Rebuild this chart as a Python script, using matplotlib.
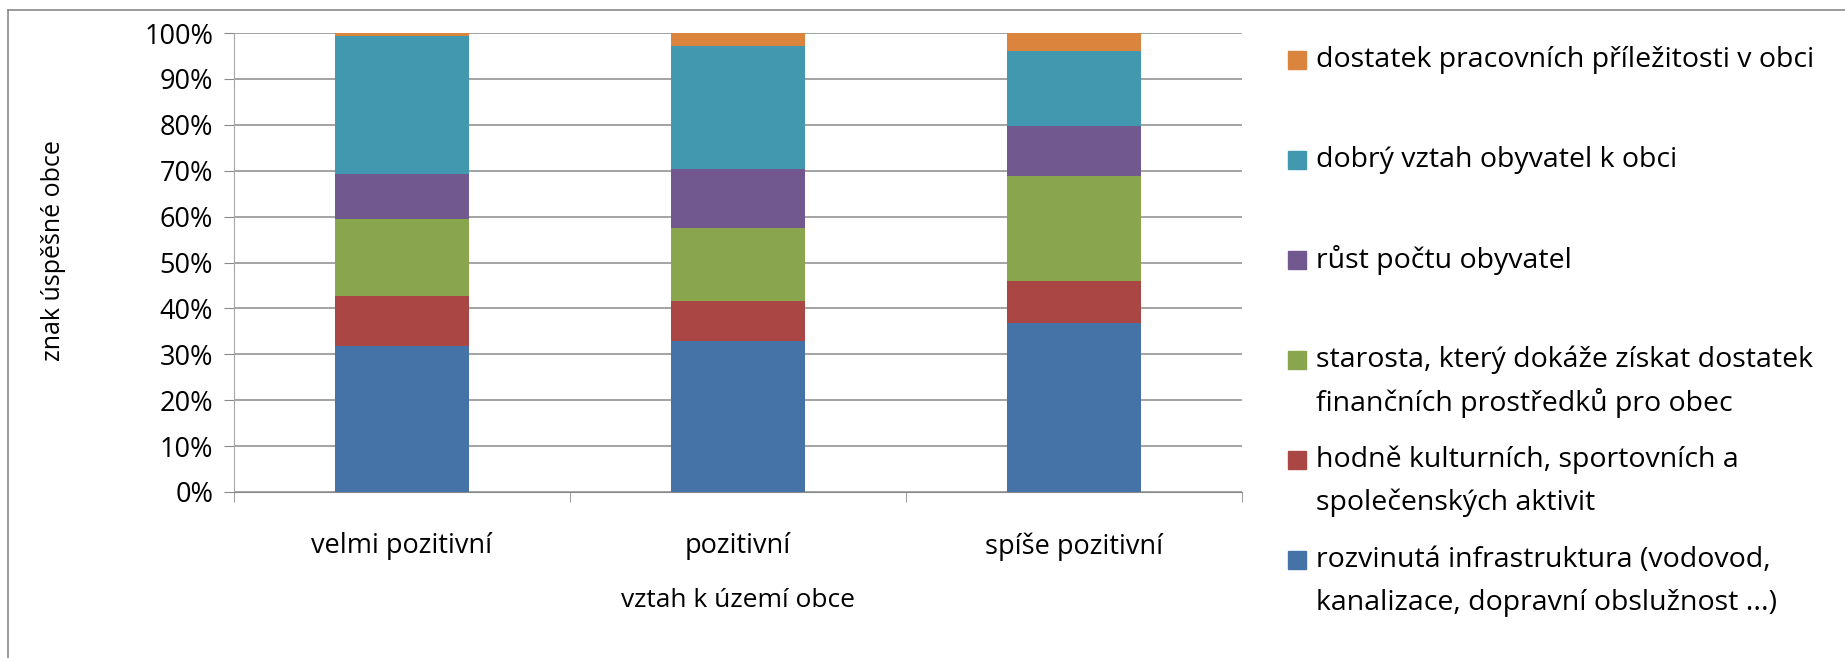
import numpy as np
import matplotlib
matplotlib.use("Agg")
import matplotlib.pyplot as plt
from matplotlib.ticker import PercentFormatter
from matplotlib.lines import Line2D
from matplotlib.patches import Rectangle

plt.rcParams['font.family'] = ['Open Sans', 'DejaVu Sans']

categories = ["velmi pozitivní", "pozitivní", "spíše pozitivní"]

# procenta, odspodu nahoru
infrastruktura = [31.9, 32.9, 36.8]
aktivity = [10.9, 8.7, 9.2]
starosta = [16.7, 15.9, 22.8]
rust = [9.8, 12.9, 11.0]
vztah = [30.1, 26.8, 16.3]
prace = [0.6, 2.8, 3.9]

series = [infrastruktura, aktivity, starosta, rust, vztah, prace]
labels = [
    "rozvinutá infrastruktura (vodovod,\nkanalizace, dopravní obslužnost ...)",
    "hodně kulturních, sportovních a\nspolečenských aktivit",
    "starosta, který dokáže získat dostatek\nfinančních prostředků pro obec",
    "růst počtu obyvatel",
    "dobrý vztah obyvatel k obci",
    "dostatek pracovních příležitosti v obci",
]
colors = ["#4572A7", "#AA4643", "#89A54E", "#71588F", "#4198AF", "#DB843D"]

W, H = 1845, 658
fig = plt.figure(figsize=(W / 100, H / 100), dpi=100)
ax = fig.add_axes([234 / W, 1 - 492 / H, 1008 / W, 459 / H])

x = np.arange(len(categories))
bottom = np.zeros(len(categories))
for vals, c in zip(series, colors):
    v = np.array(vals) / 100
    ax.bar(x, v, width=0.40, bottom=bottom, color=c, zorder=3)
    bottom += v

ax.set_xlim(-0.5, 2.5)
ax.set_ylim(0, 1)
ax.set_yticks(np.arange(0, 1.01, 0.1))
ax.yaxis.set_major_formatter(PercentFormatter(1.0, decimals=0))
ax.grid(axis='y', color='#8a8a8a', linewidth=1.1, zorder=0)

ax.set_xticks(x, categories)
ax.set_xticks([-0.5, 0.5, 1.5, 2.5], minor=True)
ax.tick_params(axis='x', which='major', length=0, pad=29, labelsize=19.5)
ax.tick_params(axis='x', which='minor', length=7, color='#8a8a8a', direction='out')
ax.tick_params(axis='y', length=7, color='#8a8a8a', pad=8, labelsize=19.5)

for s in ['top', 'right']:
    ax.spines[s].set_visible(False)
ax.spines['left'].set_color('#a6a6a6')
ax.spines['bottom'].set_color('#8a8a8a')

ax.set_ylabel("znak úspěšné obce", fontsize=18)
ax.yaxis.set_label_coords(-0.167, 0.527)
ax.set_xlabel("vztah k území obce", fontsize=19)
ax.xaxis.set_label_coords(0.5, -0.21)

# legenda (obrácené pořadí jako v Excelu)
for i, (lab, c) in enumerate(zip(labels[::-1], colors[::-1])):
    yc = 60 + 100 * i
    fig.patches.append(Rectangle((1288 / W, 1 - (yc + 9) / H), 18 / W, 18 / H,
                                 transform=fig.transFigure, color=c))
    for k, line in enumerate(lab.split("\n")):
        fig.text(1316 / W, 1 - (yc + 43 * k) / H, line, fontsize=20.5,
                 va='center', ha='left')

# rám grafu
fig.add_artist(Line2D([8 / W, 1], [1 - 10 / H, 1 - 10 / H], color='#8a8a8a', lw=1.2))
fig.add_artist(Line2D([8 / W, 8 / W], [0, 1 - 10 / H], color='#8a8a8a', lw=1.2))

fig.savefig("out.png", dpi=100)
